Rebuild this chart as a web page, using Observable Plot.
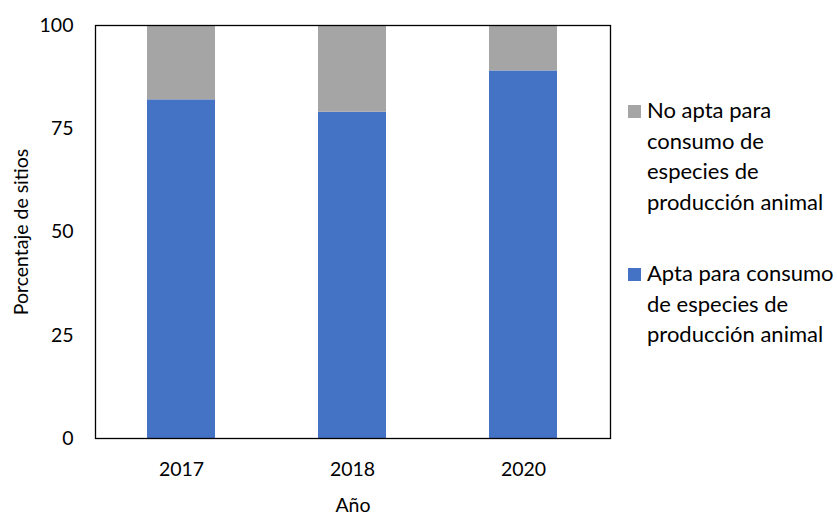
<!DOCTYPE html>
<html><head><meta charset="utf-8">
<script src="https://cdn.jsdelivr.net/npm/d3@7"></script>
<script src="https://cdn.jsdelivr.net/npm/@observablehq/plot@0.6"></script>
<style>
body{margin:0;background:#fff;font-family:Lato,"Open Sans",sans-serif;}
#wrap{position:relative;width:837px;height:517px;}
#legend{position:absolute;left:628px;top:95px;font-size:22px;line-height:30.5px;color:#000;}
.item{display:flex;align-items:flex-start;}
.sw{width:13px;height:13px;margin-top:10px;margin-right:6px;flex:none;}
</style></head>
<body><div id="wrap"><div id="chart"></div><div id="legend"></div></div>
<script>
const years = ["2017", "2018", "2020"];
const apta = [82, 79, 89];
const noApta = [18, 21, 11];
const seriesNames = ["Apta para consumo de especies de producción animal", "No apta para consumo de especies de producción animal"];
const colors = ["#4472C4", "#A5A5A5"];
const yTicks = [0, 25, 50, 75, 100];

const data = [];
years.forEach((y, i) => {
  data.push({year: y, series: seriesNames[0], value: apta[i]});
  data.push({year: y, series: seriesNames[1], value: noApta[i]});
});

const chart = Plot.plot({
  width: 837, height: 517,
  marginLeft: 95, marginRight: 227, marginTop: 25, marginBottom: 79,
  style: {fontFamily: "Lato, 'Open Sans', sans-serif", fontSize: "19.5px", color: "#000", background: "#fff"},
  x: {domain: years, paddingInner: 0.6, paddingOuter: 0.3, label: "Año", labelAnchor: "center", labelOffset: 73, tickSize: 0, tickPadding: 24, labelArrow: "none"},
  y: {domain: [0, 100], ticks: yTicks, label: "Porcentaje de sitios", labelAnchor: "center", labelOffset: 81, tickSize: 0, tickPadding: 22, labelArrow: "none"},
  color: {domain: seriesNames, range: colors},
  marks: [
    Plot.barY(data, Plot.stackY({order: seriesNames}, {x: "year", y: "value", fill: "series", z: "series"})),
    Plot.frame({stroke: "#000", strokeWidth: 1.3})
  ]
});
document.getElementById("chart").appendChild(chart);

const legend = document.getElementById("legend");
const legendOrder = [1, 0];
const legendLines = [
  ["No apta para", "consumo de", "especies de", "producción animal"],
  ["Apta para consumo", "de especies de", "producción animal"]
];
legendOrder.forEach((k, j) => {
  const item = document.createElement("div");
  item.className = "item";
  if (j > 0) item.style.marginTop = "41px";
  const sw = document.createElement("div");
  sw.className = "sw"; sw.style.background = colors[k];
  const tx = document.createElement("div");
  tx.innerHTML = legendLines[j].join("<br>");
  item.appendChild(sw); item.appendChild(tx);
  legend.appendChild(item);
});
</script></body></html>
